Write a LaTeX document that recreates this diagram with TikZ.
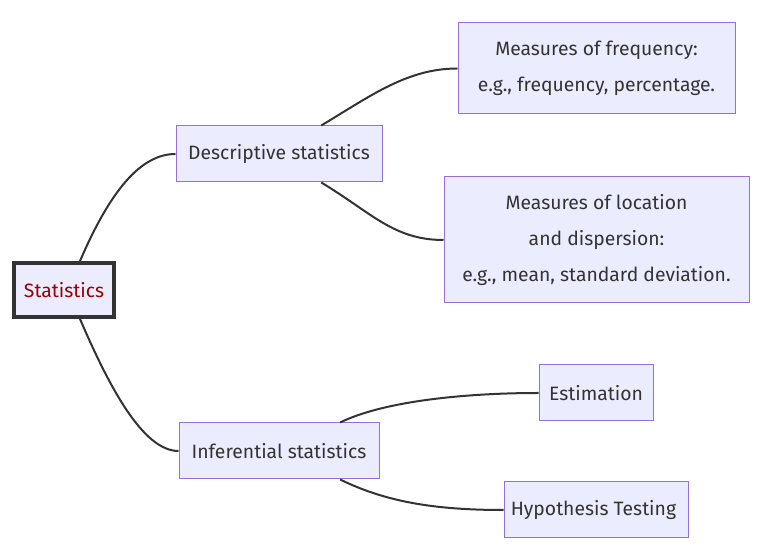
\documentclass[tikz,border=0pt]{standalone}
\usepackage{fontspec}
\setmainfont{Fira Sans}
\definecolor{boxfill}{HTML}{ECECFF}
\definecolor{boxline}{HTML}{9370DB}
\definecolor{rootline}{HTML}{333333}
\definecolor{rootred}{HTML}{990000}
\definecolor{textgray}{HTML}{333333}
\definecolor{linkgray}{HTML}{333333}
\begin{document}
\begin{tikzpicture}
		[
			x=0.75pt, y=-0.75pt,
			box/.style={rectangle, draw=boxline, fill=boxfill, line width=0.75pt, align=center, inner sep=0pt, text=textgray, font=\fontsize{14.5}{27}\selectfont},
			root/.style={box, draw=rootline, line width=3pt, text=rootred},
			link/.style={draw=linkgray, line width=1.5pt},
		]

		\useasboundingbox (0,0) rectangle (761,548);

		% Nodes
		\node[root, minimum width=75pt, minimum height=40pt] (st) at (64,290) {Statistics};
		\foreach \name/\x/\y/\w/\h/\text in
		{
			des/279/154/154.5/42/{Descriptive statistics},
			frq/596.5/68.5/207.75/68.25/{Measures of frequency:\\e.g., frequency, percentage.},
			loc/596.5/240/228.75/94.5/{Measures of location\\and dispersion:\\e.g., mean, standard deviation.},
			inf/279/451/150/42/{Inferential statistics},
			est/596/393/85.5/42/{Estimation},
			hyp/596/510/138/42/{Hypothesis Testing}
		}
			\node[box, minimum width=\w pt, minimum height=\h pt] (\name) at (\x,\y) {\text};

		% Links
		\draw[link] (st.61) .. controls +(30,-70) and +(-35,0) .. (des.west);
		\draw[link] (st.-61) .. controls +(30,70) and +(-35,0) .. (inf.west);
		\draw[link] (des.34) .. controls +(50,-30) and +(-50,0) .. (frq.west);
		\draw[link] (des.-34) .. controls +(50,30) and +(-50,0) .. (loc.west);
		\draw[link] (inf.25) .. controls +(45,-22) and +(-70,0) .. (est.west);
		\draw[link] (inf.-25) .. controls +(45,22) and +(-70,0) .. (hyp.west);

		\end{tikzpicture}
\end{document}
